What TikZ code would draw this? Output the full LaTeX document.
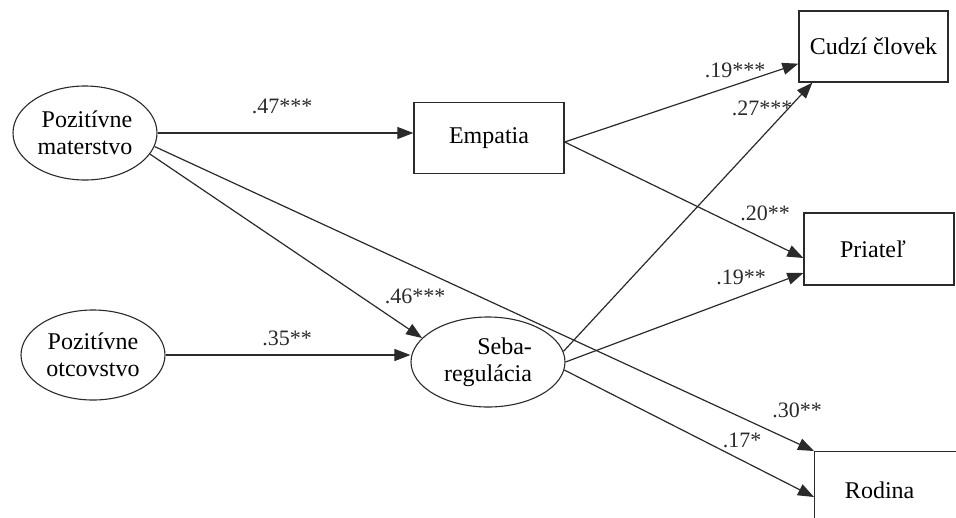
\documentclass[tikz,border=0pt]{standalone}
\usepackage{fontspec}
\setmainfont{Liberation Serif}
\usetikzlibrary{shapes.geometric,arrows.meta,calc}
\definecolor{ink}{HTML}{2A2A2A}
\tikzset{
  ell/.style={draw=ink, line width=1.1pt, ellipse, inner sep=0pt, font=\fontsize{24}{27}\selectfont},
  box/.style={draw=ink, line width=1.3pt, rectangle, inner sep=0pt, font=\fontsize{24}{27}\selectfont},
  arr/.style={draw=ink, line width=1.2pt, -{Triangle[length=16pt,width=12pt]}},
  lab/.style={font=\fontsize{22}{26}\selectfont, inner sep=0pt, text=ink}
}
\begin{document}
\begin{tikzpicture}[x=1pt,y=-1pt]
\useasboundingbox (0,0) rectangle (956,517);
\clip (0,0) rectangle (956,517);
% nodes
\node[ell, minimum width=144pt, minimum height=94pt, align=right] (pm) at (85,133) {Pozitívne\\materstvo};
\node[ell, minimum width=144pt, minimum height=90pt, align=center] (po) at (93,355) {Pozitívne\\otcovstvo};
\node[box, minimum width=150pt, minimum height=71pt] (emp) at (489,138) {Empatia};
\node[ell, minimum width=154pt, minimum height=90pt, align=right] (seba) at (488,362) {\hspace*{10pt}Seba-\\regulácia};
\node[box, minimum width=149pt, minimum height=71pt] (cudzi) at (873.5,46.5) {Cudzí človek};
\node[box, minimum width=150pt, minimum height=72pt] (priatel) at (879,249) {\hspace*{-12pt}Priateľ};
\node[box, minimum width=150pt, minimum height=74pt, anchor=north west,
      label={[xshift=-10pt, yshift=-2pt, font=\fontsize{24}{27}\selectfont]center:Rodina}] (rodina) at (814,451) {};
% connectors
\draw[arr] (pm.east) -- (emp.west |- pm.east);
\draw[arr] (pm.-18) -- (seba.160);
\draw[arr] (pm.-11) -- (rodina.north west);
\draw[arr] (po.east) -- (seba.west |- po.east);
\draw[arr] ($(emp.east)+(0,4)$) -- ($(cudzi.south west)+(0,-19)$);
\draw[arr] ($(emp.east)+(0,4)$) -- ($(priatel.west)+(0,9)$);
\draw[arr] (seba.8) -- ($(cudzi.south west)+(14,0)$);
\draw[arr] (seba.east) -- ($(priatel.west)+(0,24)$);
\draw[arr] (seba.-6) -- ($(rodina.north west)+(0,46)$);
% labels
\node[lab] (l1) at (282,106) {.47***};
\node[lab] (l2) at (415,296) {.46***};
\node[lab] (l3) at (287,338) {.35**};
\node[lab] (l4) at (735,70) {.19***};
\node[lab] (l5) at (762,108) {.27***};
\node[lab] (l6) at (765,213) {.20**};
\node[lab] (l7) at (741,277) {.19**};
\node[lab] (l8) at (797,410) {.30**};
\node[lab] (l9) at (742,440) {.17*};
\end{tikzpicture}
\end{document}
